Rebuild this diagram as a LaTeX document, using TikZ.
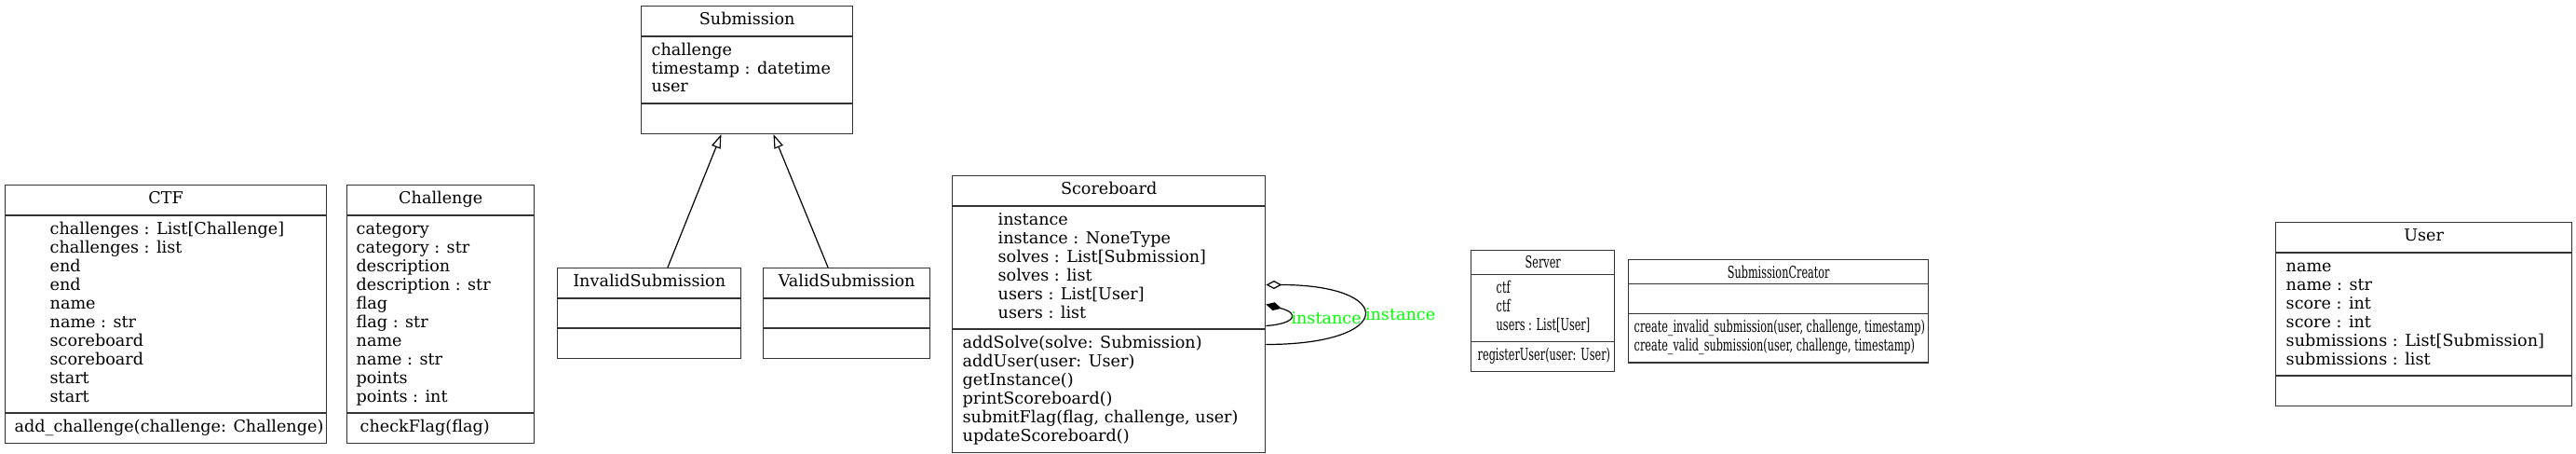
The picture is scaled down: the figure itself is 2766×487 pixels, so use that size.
\documentclass[tikz,border=0pt]{standalone}
\usepackage{fontspec}
\usepackage{graphicx}
\setmainfont{DejaVu Serif}
\usetikzlibrary{shapes.multipart,arrows.meta}
% one part of a class box: left aligned lines, centred or set off from the centre
\newcommand{\lines}[1]{\makebox[0pt]{\begin{tabular}{@{}l@{}}#1\end{tabular}}}
\newcommand{\at}[2]{\makebox[0pt][l]{\hspace*{#1pt}\begin{tabular}{@{}l@{}}#2\end{tabular}}}
\newcommand{\sqat}[2]{\makebox[0pt][l]{\hspace*{#1pt}\scalebox{0.64}[1]{\begin{tabular}{@{}l@{}}#2\end{tabular}}}}
\newcommand{\sqlines}[1]{\makebox[0pt]{\scalebox{0.64}[1]{#1}}}
\newcommand{\blank}{\strut}
\begin{document}
\begin{tikzpicture}[x=1pt, y=-1pt,
	cls/.style={rectangle split, rectangle split parts=3, draw=black!80, line width=1.4pt,
		anchor=north west, inner xsep=0pt, inner ysep=5.4pt, font=\fontsize{17.6}{20}\selectfont},
	inherit/.style={-{Triangle[open, length=15pt, width=10pt]}, line width=1.2pt},
	aggr/.style={{Diamond[open, length=17pt, width=9pt]}-, line width=1.2pt},
	comp/.style={{Diamond[length=17pt, width=9pt]}-, line width=1.2pt},
	lbl/.style={anchor=west, inner sep=1pt, text=green, font=\fontsize{17.6}{20}\selectfont}]
	\useasboundingbox (0,0) rectangle (2766,487);
	\node[cls, minimum width=345pt] (ctf) at (5,198) {\lines{CTF}
		\nodepart{two}\at{-124.5}{challenges : List[Challenge]\\challenges : list\\end\\end\\name\\name : str\\scoreboard\\scoreboard\\start\\start}
		\nodepart{three}\at{-162.5}{add\_challenge(challenge: Challenge)}};
	\node[cls, minimum width=201pt] (chal) at (372,198) {\lines{Challenge}
		\nodepart{two}\at{-90.5}{category\\category : str\\description\\description : str\\flag\\flag : str\\name\\name : str\\points\\points : int}
		\nodepart{three}\at{-86.5}{checkFlag(flag)}};
	\node[cls, minimum width=227pt] (sub) at (688,6) {\lines{Submission}
		\nodepart{two}\at{-102.5}{challenge\\timestamp : datetime\\user}
		\nodepart{three}\blank};
	\node[cls, minimum width=197pt] (inv) at (598,287) {\lines{InvalidSubmission}
		\nodepart{two}\blank
		\nodepart{three}\blank};
	\node[cls, minimum width=179pt] (val) at (819,287) {\lines{ValidSubmission}
		\nodepart{two}\blank
		\nodepart{three}\blank};
	\node[cls, minimum width=336pt] (sb) at (1022,188) {\lines{Scoreboard}
		\nodepart{two}\at{-119}{instance\\instance : NoneType\\solves : List[Submission]\\solves : list\\users : List[User]\\users : list}
		\nodepart{three}\at{-157}{addSolve(solve: Submission)\\addUser(user: User)\\getInstance()\\printScoreboard()\\submitFlag(flag, challenge, user)\\updateScoreboard()}};
	\node[cls, minimum width=154pt] (srv) at (1579,268) {\sqlines{Server}
		\nodepart{two}\sqat{-50}{ctf\\ctf\\users : List[User]}
		\nodepart{three}\sqat{-70}{registerUser(user: User)}};
	\node[cls, minimum width=322pt] (crt) at (1748,278) {\sqlines{SubmissionCreator}
		\nodepart{two}\blank
		\nodepart{three}\sqat{-155}{create\_invalid\_submission(user, challenge, timestamp)\\create\_valid\_submission(user, challenge, timestamp)}};
	\node[cls, minimum width=318pt] (usr) at (2443,238) {\lines{User}
		\nodepart{two}\at{-148}{name\\name : str\\score : int\\score : int\\submissions : List[Submission]\\submissions : list}
		\nodepart{three}\blank};
	% inheritance
	\draw[inherit] (inv) -- (sub);
	\draw[inherit] (val) -- (sub);
	% self associations of Scoreboard
	\draw[aggr] ([yshift=31.5pt]sb.east) .. controls +(140,0) and +(140,0) .. ([yshift=-32.5pt]sb.east) node[lbl, pos=0.5] (lblout) {instance};
	\draw[comp] ([yshift=10.5pt]sb.east) .. controls +(38,10) and +(30,-2) .. ([yshift=-12.5pt]sb.east) node[lbl, pos=0.5] (lblin) {instance};
\end{tikzpicture}
\end{document}
